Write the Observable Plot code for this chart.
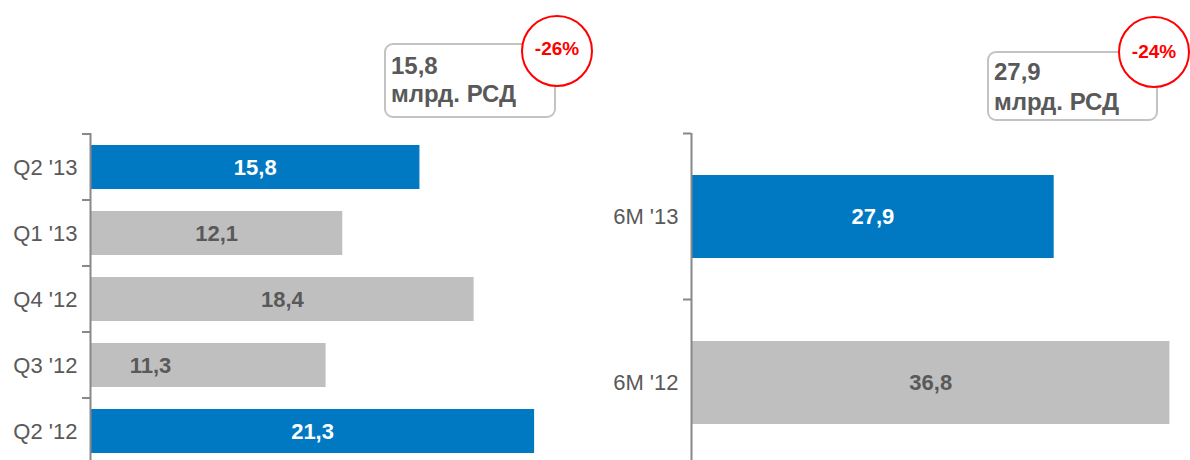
<!DOCTYPE html>
<html>
<head>
<meta charset="utf-8">
<script src="https://cdn.jsdelivr.net/npm/d3@7"></script>
<script src="https://cdn.jsdelivr.net/npm/@observablehq/plot@0.6"></script>
<style>
  html, body { margin: 0; padding: 0; background: #fff; overflow: hidden; }
  #chart { position: relative; width: 1190px; height: 460px; overflow: hidden;
           font-family: "Liberation Sans", Arial, sans-serif; }
  .panel { position: absolute; top: 0; }
  .panel svg { background: transparent !important; max-width: none !important; }
  .callout { position: absolute; box-sizing: border-box; border: 2px solid #c3c3c3;
             border-radius: 9px; background: #fff; color: #595959; font-weight: bold;
             font-size: 24px; padding-left: 5px; white-space: nowrap; }
  .change { position: absolute; box-sizing: border-box; width: 72px; height: 72px;
            border: 2px solid #ff0000; border-radius: 50%; background: #fff; color: #ff0000;
            font-weight: bold; font-size: 19px; display: flex; align-items: center;
            justify-content: center; }
</style>
</head>
<body>
<div id="chart"></div>
<script>
// Quarterly volume, bn RSD (latest quarter first)
const quarters = ["Q2 '13", "Q1 '13", "Q4 '12", "Q3 '12", "Q2 '12"];
const quarterValues = [15.8, 12.1, 18.4, 11.3, 21.3];

// Half-year totals, bn RSD
const halves = ["6M '13", "6M '12"];
const halfValues = [27.9, 36.8];

// Periods drawn in the accent colour
const highlighted = ["Q2 '13", "Q2 '12", "6M '13"];

const unitLabel = "млрд. РСД";

const BLUE = "#0079c2";
const GREY = "#bfbfbf";
const TEXT = "#595959";
const AXIS = "#888888";

const fmt = v => v.toFixed(1).replace(".", ",");
const rows = (cats, vals) => cats.map((period, i) => ({period, value: vals[i], hi: highlighted.includes(period)}));

// Ticks on the category axis sit on the band boundaries, pointing left
function boundaryTicks(cats) {
  return (index, scales, values, dims) => {
    const y = scales.y, x = scales.x;
    const step = y.step(), bw = y.bandwidth();
    const edges = cats.map(c => y(c) + bw / 2 - step / 2);
    edges.push(edges[edges.length - 1] + step);
    const x0 = x(0);
    const g = d3.create("svg:g").attr("stroke", AXIS).attr("stroke-width", 2);
    for (const e of edges) g.append("line").attr("x1", x0 - 8).attr("x2", x0).attr("y1", e).attr("y2", e);
    return g.node();
  };
}

function panel({cats, vals, width, marginLeft, xMax, pxPerUnit, paddingInner, shifted = []}) {
  const data = rows(cats, vals);
  const centred = data.filter(d => !shifted.includes(d.period));
  const moved = data.filter(d => shifted.includes(d.period));
  return Plot.plot({
    width,
    height: 465,
    marginTop: 133,
    marginBottom: 0,
    marginLeft,
    marginRight: width - marginLeft - xMax * pxPerUnit,
    style: {fontFamily: "'Liberation Sans', Arial, sans-serif", fontSize: "22px", color: TEXT, background: "transparent"},
    x: {domain: [0, xMax], axis: null},
    y: {domain: cats, paddingInner, paddingOuter: paddingInner / 2, label: null},
    marks: [
      Plot.barX(data, {x: "value", y: "period", fill: d => d.hi ? BLUE : GREY}),
      Plot.ruleX([0], {stroke: AXIS, strokeWidth: 2}),
      boundaryTicks(cats),
      Plot.axisY({tickSize: 0, tickPadding: 13, fontSize: 22, fill: TEXT, label: null}),
      Plot.text(centred, {x: d => d.value / 2, y: "period", text: d => fmt(d.value),
        fill: d => d.hi ? "#ffffff" : TEXT, fontWeight: "bold", fontSize: 22}),
      Plot.text(moved, {x: 0, dx: 60, y: "period", text: d => fmt(d.value),
        fill: d => d.hi ? "#ffffff" : TEXT, fontWeight: "bold", fontSize: 22})
    ]
  });
}

const chart = document.getElementById("chart");

function addPanel(left, plot) {
  const div = document.createElement("div");
  div.className = "panel";
  div.style.left = left + "px";
  div.appendChild(plot);
  chart.appendChild(div);
}

addPanel(0, panel({cats: quarters, vals: quarterValues, width: 615, marginLeft: 90,
  xMax: 25, pxPerUnit: 20.85, paddingInner: 0.34, shifted: ["Q3 '12"]}));
addPanel(600, panel({cats: halves, vals: halfValues, width: 590, marginLeft: 91,
  xMax: 38, pxPerUnit: 13.0, paddingInner: 0.5}));

// Call-outs: latest value with unit, and the year-on-year change in a circle
function callout({value, previous, box, circle}) {
  const b = document.createElement("div");
  b.className = "callout";
  Object.assign(b.style, {left: box.left + "px", top: box.top + "px", width: box.w + "px",
    height: box.h + "px", lineHeight: box.lh + "px", paddingTop: box.pt + "px"});
  b.innerHTML = `${fmt(value)}<br>${unitLabel}`;
  chart.appendChild(b);
  const c = document.createElement("div");
  c.className = "change";
  Object.assign(c.style, {left: circle.left + "px", top: circle.top + "px", paddingBottom: circle.pb + "px"});
  c.textContent = `${Math.round((value / previous - 1) * 100)}%`;
  chart.appendChild(c);
}

callout({value: quarterValues[0], previous: quarterValues[4],
  box: {left: 384, top: 43, w: 172, h: 75, lh: 28, pt: 6.5},
  circle: {left: 521, top: 15, pb: 4}});
callout({value: halfValues[0], previous: halfValues[1],
  box: {left: 987, top: 51, w: 171, h: 70, lh: 30, pt: 3.5},
  circle: {left: 1118, top: 16, pb: 0}});
</script>
</body>
</html>
